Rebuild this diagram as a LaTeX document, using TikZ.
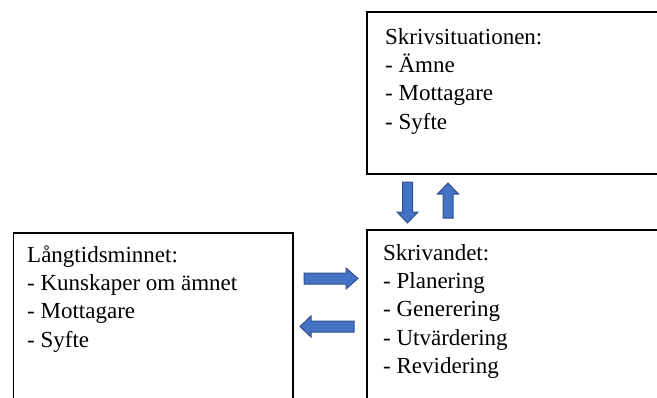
\documentclass[tikz,border=0pt]{standalone}
\usepackage{fontspec}
\setmainfont{Liberation Serif}
\newcommand{\boxlines}[1]{\fontsize{23}{28.4}\selectfont\begin{tabular}[t]{@{}l@{}}#1\end{tabular}}
\begin{document}
\begin{tikzpicture}[x=1pt,y=-1pt,
  boxline/.style={draw=black,line width=1.8pt},
  boxtext/.style={anchor=base west,inner sep=0pt},
  blockarrow/.style={fill=arrowfill,draw=arrowline,line width=1pt,line join=miter}]
\definecolor{arrowfill}{HTML}{4472C4}
\definecolor{arrowline}{HTML}{2F528F}
\useasboundingbox (0,0) rectangle (657,397);
\clip (0,0) rectangle (657,397);
% boxes
\draw[boxline] (367,12) rectangle (680,174);
\draw[boxline] (367,230) rectangle (680,420);
\draw[boxline] (13.5,233) rectangle (293,420);
% texts
\node[boxtext] (sit) at (385,44) {\boxlines{Skrivsituationen:\\- Ämne\\- Mottagare\\- Syfte}};
\node[boxtext] (ltm) at (27,262) {\boxlines{Långtidsminnet:\\- Kunskaper om ämnet\\- Mottagare\\- Syfte}};
\node[boxtext] (skr) at (383,260) {\boxlines{Skrivandet:\\- Planering\\- Generering\\- Utvärdering\\- Revidering}};
% block arrows
\draw[blockarrow] (304,273) -- (346,273) -- (346,268) -- (358,278.5) -- (346,289) -- (346,284) -- (304,284) -- cycle;
\draw[blockarrow] (354,321) -- (311,321) -- (311,316) -- (300,326.5) -- (311,337) -- (311,332) -- (354,332) -- cycle;
\draw[blockarrow] (402.5,182) -- (402.5,212) -- (397,212) -- (407.5,223) -- (418,212) -- (412.5,212) -- (412.5,182) -- cycle;
\draw[blockarrow] (443,218) -- (443,194) -- (437.5,194) -- (448,183) -- (458.5,194) -- (453,194) -- (453,218) -- cycle;
\end{tikzpicture}
\end{document}
